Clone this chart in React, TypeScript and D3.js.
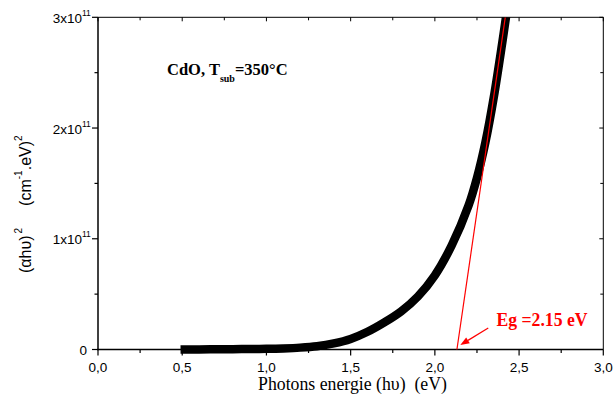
import React from "react";
import * as d3 from "d3";

const energy = [0.49, 0.6, 0.7, 0.8, 0.9, 1.0, 1.1, 1.2, 1.3, 1.4, 1.5, 1.6, 1.7, 1.8, 1.9, 2.0, 2.1, 2.2, 2.25, 2.3, 2.35, 2.4, 2.425];
const absorption = [0.0, 0.001, 0.002, 0.003, 0.004, 0.006, 0.01, 0.017, 0.03, 0.055, 0.095, 0.16, 0.245, 0.345, 0.48, 0.67, 0.94, 1.3, 1.55, 1.87, 2.28, 2.77, 3.03].map((v) => v * 1e11);

const xMajorTicks = [0, 0.5, 1.0, 1.5, 2.0, 2.5, 3.0];
const xMinorTicks = [0.25, 0.75, 1.25, 1.75, 2.25, 2.75];
const yMajorTicks = [0, 1e11, 2e11, 3e11];
const yMinorTicks = [0.5e11, 1.5e11, 2.5e11];
const yTickMantissa = ["0", "1x10", "2x10", "3x10"];

const tangentStart = { x: 2.131, y: 0 };
const tangentEnd = { x: 2.418, y: 3e11 };
const arrowTip = { x: 2.151, y: 0.04e11 };
const arrowTail = { x: 2.317, y: 0.194e11 };

export default function App() {
  const W = 613;
  const H = 394;
  const x = d3.scaleLinear().domain([0, 3]).range([98, 603.3]);
  const y = d3.scaleLinear().domain([0, 3e11]).range([349.5, 17.3]);
  const pts: [number, number][] = energy.map((e, i) => [x(e), y(absorption[i])]);
  const line = d3.line().curve(d3.curveCatmullRom.alpha(0.5))(pts) as string;
  const x0 = x(0), x1 = x(3), y0 = y(0), y1 = y(3e11);

  const tx = x(arrowTip.x), ty = y(arrowTip.y);
  const ax = x(arrowTail.x), ay = y(arrowTail.y);
  const ang = Math.atan2(ty - ay, tx - ax);
  const hl = 9, hw = 3.5;
  const bx = tx - hl * Math.cos(ang), by = ty - hl * Math.sin(ang);
  const head = `M${tx},${ty}L${bx + hw * Math.sin(ang)},${by - hw * Math.cos(ang)}L${bx - hw * Math.sin(ang)},${by + hw * Math.cos(ang)}Z`;

  return (
    <svg width={W} height={H} style={{ position: "absolute", left: 0, top: 0, background: "#fff" }}>
      <defs>
        <clipPath id="plot">
          <rect x={x0} y={y1} width={x1 - x0} height={y0 - y1 + 10} />
        </clipPath>
      </defs>
      <rect x={0} y={0} width={W} height={H} fill="#fff" />
      <line x1={x0} x2={x1} y1={y1} y2={y1} stroke="#000" strokeWidth={1} />
      <line x1={x1} x2={x1} y1={y1} y2={y0} stroke="#000" strokeWidth={1} />
      <line x1={x0} x2={x0} y1={y1} y2={y0 + 0.75} stroke="#000" strokeWidth={1.5} />
      <line x1={x0 - 0.75} x2={x1} y1={y0} y2={y0} stroke="#000" strokeWidth={1.5} />
      {xMajorTicks.map((t) => (
        <g key={"xm" + t}>
          <line x1={x(t)} x2={x(t)} y1={y0} y2={y0 + 6} stroke="#000" strokeWidth={1.2} />
          <line x1={x(t)} x2={x(t)} y1={y1} y2={y1 + 4} stroke="#000" strokeWidth={1} />
          <text x={x(t)} y={372} textAnchor="middle" fontFamily="Liberation Sans, Arial, sans-serif" fontSize={13.5}>
            {t.toFixed(1).replace(".", ",")}
          </text>
        </g>
      ))}
      {xMinorTicks.map((t) => (
        <g key={"xn" + t}>
          <line x1={x(t)} x2={x(t)} y1={y0} y2={y0 + 3.5} stroke="#000" strokeWidth={1.2} />
          <line x1={x(t)} x2={x(t)} y1={y1} y2={y1 + 3} stroke="#000" strokeWidth={1} />
        </g>
      ))}
      {yMajorTicks.map((t, i) => (
        <g key={"ym" + t}>
          <line x1={x0} x2={x0 - 6} y1={y(t)} y2={y(t)} stroke="#000" strokeWidth={1.2} />
          <line x1={x1} x2={x1 - 4} y1={y(t)} y2={y(t)} stroke="#000" strokeWidth={1} />
          <text x={i === 0 ? 87 : 82} y={y(t) + 5.5} textAnchor="end" fontFamily="Liberation Sans, Arial, sans-serif" fontSize={13.5}>
            {yTickMantissa[i]}
          </text>
          {i > 0 && (
            <text x={82} y={y(t) - 1.5} fontFamily="Liberation Sans, Arial, sans-serif" fontSize={8.5}>
              11
            </text>
          )}
        </g>
      ))}
      {yMinorTicks.map((t) => (
        <g key={"yn" + t}>
          <line x1={x0} x2={x0 - 3.5} y1={y(t)} y2={y(t)} stroke="#000" strokeWidth={1.2} />
          <line x1={x1} x2={x1 - 3} y1={y(t)} y2={y(t)} stroke="#000" strokeWidth={1} />
        </g>
      ))}
      <g clipPath="url(#plot)">
        <path d={line} fill="none" stroke="#000" strokeWidth={8.5} strokeLinecap="butt" />
        <line x1={x(tangentStart.x)} y1={y(tangentStart.y)} x2={x(tangentEnd.x)} y2={y(tangentEnd.y)} stroke="#ff0000" strokeWidth={1.2} />
      </g>
      <line x1={ax} y1={ay} x2={bx} y2={by} stroke="#ff0000" strokeWidth={1.2} />
      <path d={head} fill="#ff0000" />
      <text x={496.5} y={325.5} fontFamily="Liberation Serif, Times New Roman, serif" fontWeight="bold" fontSize={18} fill="#ff0000" textLength={91} lengthAdjust="spacingAndGlyphs">
        Eg =2.15 eV
      </text>
      <text x={167} y={75} fontFamily="Liberation Serif, Times New Roman, serif" fontWeight="bold" fontSize={16.5}>
        CdO, T
        <tspan fontSize={10} dy={7}>sub</tspan>
        <tspan dy={-7}>=350°C</tspan>
      </text>
      <text x={258} y={389.5} fontFamily="Liberation Serif, Times New Roman, serif" fontSize={18} textLength={189} lengthAdjust="spacingAndGlyphs">
        {"Photons energie (hυ)\u00A0 (eV)"}
      </text>
      <text transform="translate(31,273) rotate(-90)" fontFamily="Liberation Sans, Arial, sans-serif" fontSize={16}>
        (αhυ)
        <tspan fontSize={10} dy={-9} dx={2}>2</tspan>
        <tspan dy={9} dx={22}>(cm</tspan>
        <tspan fontSize={10} dy={-9}>-1</tspan>
        <tspan dy={9}>.eV)</tspan>
        <tspan fontSize={10} dy={-9}>2</tspan>
      </text>
    </svg>
  );
}
